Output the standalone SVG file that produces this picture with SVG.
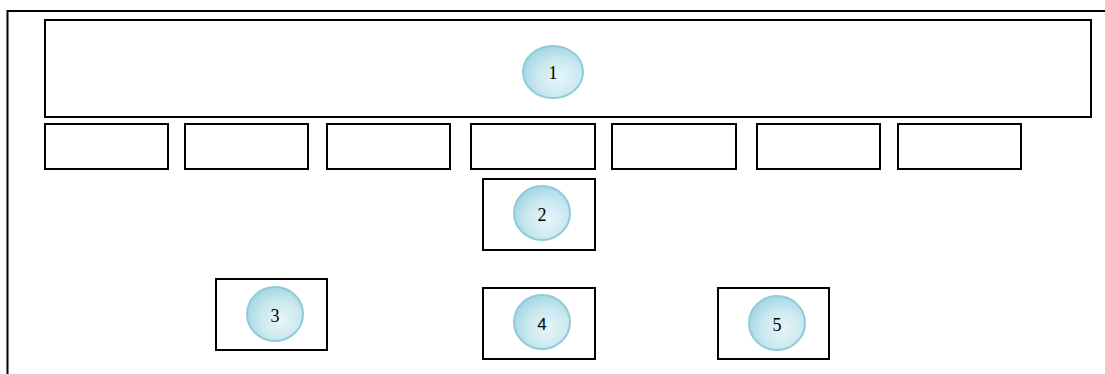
<svg xmlns="http://www.w3.org/2000/svg" width="1105" height="374" viewBox="0 0 1105 374">
  <defs>
    <radialGradient id="bubble" cx="0.6" cy="0.62" r="0.6">
      <stop offset="0" stop-color="#e6f5f8"/>
      <stop offset="0.6" stop-color="#cbe9f0"/>
      <stop offset="1" stop-color="#a9d9e5"/>
    </radialGradient>
  </defs>
  <style>
    .box { fill: #ffffff; stroke: #000000; stroke-width: 2; }
    .frame { fill: none; stroke: #000000; stroke-width: 2; }
    .bub { fill: url(#bubble); stroke: #8fcbd9; stroke-width: 2; }
    .lbl { font-family: "Liberation Serif", "Times New Roman", serif; font-size: 18px; fill: #000000; text-anchor: middle; }
    .lbl4 { font-family: "Liberation Sans", Arial, sans-serif; font-size: 17px; fill: #000000; text-anchor: middle; }
  </style>
  <rect class="frame" x="7.5" y="11" width="1110" height="400"/>
  <g id="connectors"></g>
  <g id="node1">
    <rect class="box" x="45" y="20" width="1046" height="97"/>
    <ellipse class="bub" cx="553" cy="72" rx="30" ry="26"/>
    <text class="lbl" x="553" y="79">1</text>
  </g>
  <g id="row">
    <rect class="box" x="45" y="124" width="123" height="45"/>
    <rect class="box" x="185" y="124" width="123" height="45"/>
    <rect class="box" x="327" y="124" width="123" height="45"/>
    <rect class="box" x="471" y="124" width="124" height="45"/>
    <rect class="box" x="612" y="124" width="124" height="45"/>
    <rect class="box" x="757" y="124" width="123" height="45"/>
    <rect class="box" x="898" y="124" width="123" height="45"/>
  </g>
  <g id="node2">
    <rect class="box" x="483" y="179" width="112" height="71"/>
    <ellipse class="bub" cx="542" cy="213" rx="28" ry="27"/>
    <text class="lbl" x="542" y="221">2</text>
  </g>
  <g id="node3">
    <rect class="box" x="216" y="279" width="111" height="71"/>
    <ellipse class="bub" cx="275" cy="314" rx="28" ry="27"/>
    <text class="lbl" x="275" y="322">3</text>
  </g>
  <g id="node4">
    <rect class="box" x="483" y="288" width="112" height="71"/>
    <ellipse class="bub" cx="542" cy="322" rx="28" ry="27"/>
    <text class="lbl4" x="542" y="330">4</text>
  </g>
  <g id="node5">
    <rect class="box" x="718" y="288" width="111" height="71"/>
    <ellipse class="bub" cx="777" cy="323" rx="28" ry="27"/>
    <text class="lbl" x="777" y="331">5</text>
  </g>
</svg>
